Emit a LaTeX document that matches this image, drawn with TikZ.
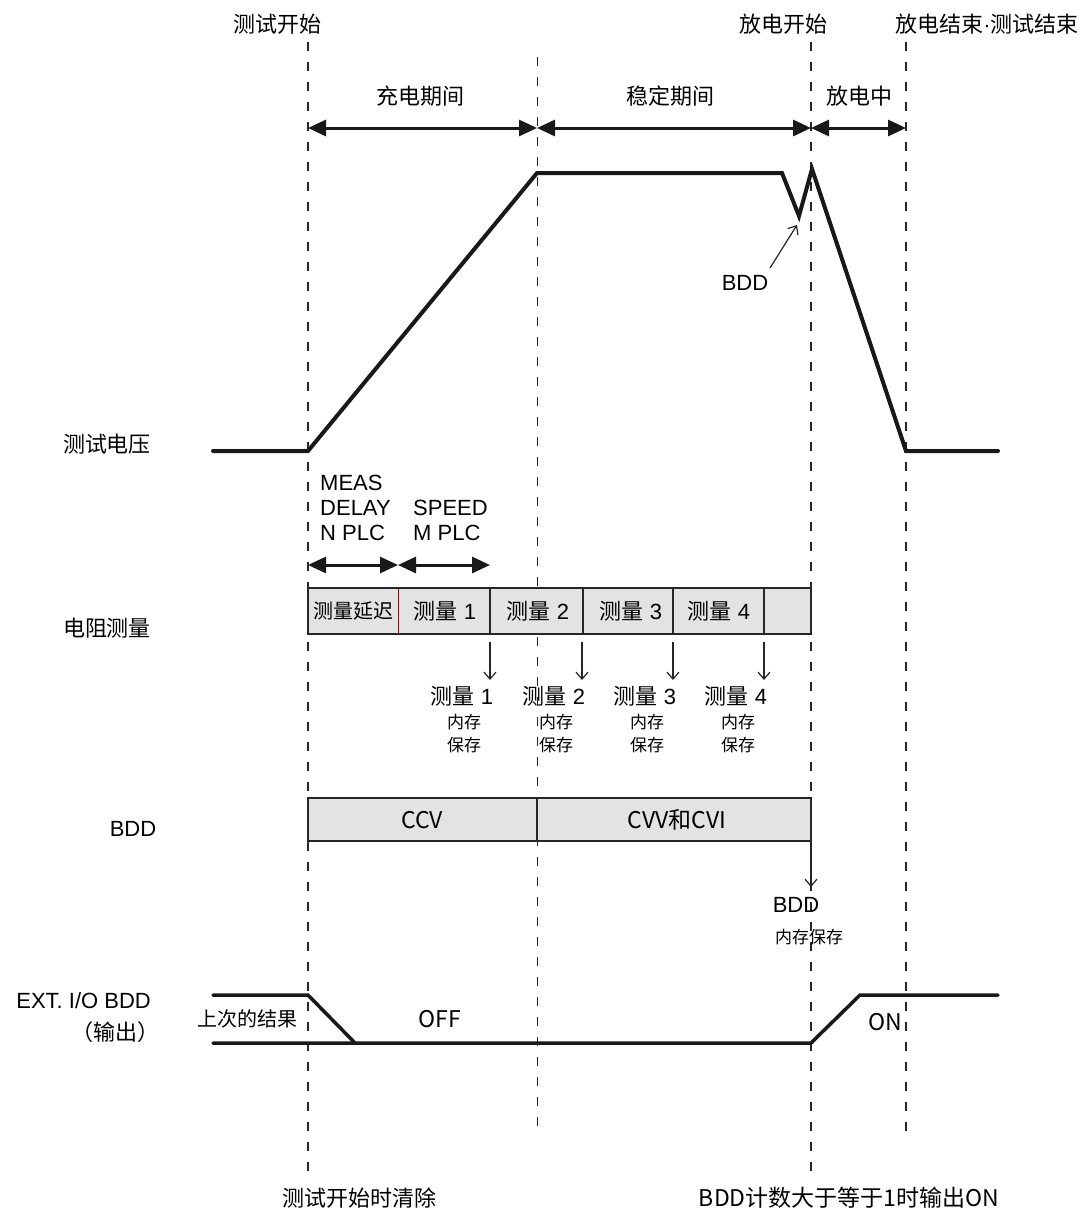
\documentclass[tikz,border=0pt]{standalone}
\usepackage{fontspec}
\setmainfont{Liberation Sans}
\newfontfamily\cjk{Noto Sans CJK SC}
\usetikzlibrary{arrows.meta}
\tikzset{
  guide/.style={line width=1.3pt, dash pattern=on 9pt off 11pt, black!85},
  wave/.style={line width=4pt, black!90, line join=miter},
  span/.style={line width=3pt, black!90, {Triangle[length=18pt,width=16pt]}-{Triangle[length=18pt,width=16pt]}},
  thin/.style={line width=1.2pt, black!85, -{Straight Barb[length=7pt,width=12pt]}},
  lbl/.style={font=\fontsize{22}{25}\selectfont, inner sep=0pt},
  cjklat/.style={font=\fontsize{23}{26}\selectfont\cjk, inner sep=0pt},
  small/.style={font=\fontsize{17}{20}\selectfont\cjk, inner sep=0pt},
  cellbox/.style={draw=black!85, line width=1.3pt, fill=black!11},
}
\begin{document}
\begin{tikzpicture}[x=1pt,y=-1pt]
\useasboundingbox (0,0) rectangle (1083,1211);
% guide lines
\coordinate (g1t) at (308,42); \coordinate (g1b) at (308,1180);
\coordinate (g2t) at (537,57); \coordinate (g2b) at (537,1135);
\coordinate (g3t) at (811,42); \coordinate (g3b) at (811,1180);
\coordinate (g4t) at (906,42); \coordinate (g4b) at (906,1135);
\draw[guide] (g1t) -- (g1b);
\draw[guide, line width=1pt] (g2t) -- (g2b);
\draw[guide] (g3t) -- (g3b);
\draw[guide] (g4t) -- (g4b);
% top labels
\node[lbl] (tstart) at (277,24) {\cjk 测试开始};
\node[lbl] (dstart) at (783,24) {\cjk 放电开始};
\node[lbl] (dend) at (987,24) {{\cjk 放电结束}·{\cjk 测试结束}};
% periods
\coordinate (p1) at (308,128); \coordinate (p2) at (537,128);
\coordinate (p3) at (811,128); \coordinate (p4) at (906,128);
\draw[span] (p1) -- (p2);
\draw[span] (p2) -- (p3);
\draw[span] (p3) -- (p4);
\node[lbl] (chg) at (420,96) {\cjk 充电期间};
\node[lbl] (stb) at (670,96) {\cjk 稳定期间};
\node[lbl] (dis) at (859,96) {\cjk 放电中};
% waveform
\node[lbl] (lv) at (107,444) {\cjk 测试电压};
\coordinate (w0) at (213,451); \coordinate (w1) at (308,451);
\coordinate (w2) at (537,173); \coordinate (w3) at (782,173);
\coordinate (w4) at (799,216); \coordinate (w5) at (812,169);
\coordinate (w6) at (906,451); \coordinate (w7) at (998,451);
\draw[wave, line cap=round] (w0) -- (w1) -- (w2) -- (w3) -- (w4) -- (w5) -- (w6) -- (w7);
\node[lbl] (bddlbl) at (745,283) {BDD};
\coordinate (bddtip) at (797,225);
\coordinate (bddtail) at (770,268);
\draw[thin] (bddtail) -- (bddtip);
% meas delay / speed
\node[lbl, anchor=west] (m1) at (320,483) {MEAS};
\node[lbl, anchor=west] (m2) at (320,508) {DELAY};
\node[lbl, anchor=west] (m3) at (320,533) {N PLC};
\node[lbl, anchor=west] (s1) at (413,508) {SPEED};
\node[lbl, anchor=west] (s2) at (413,533) {M PLC};
\coordinate (a1) at (308,565); \coordinate (a2) at (398,565); \coordinate (a3) at (490,565);
\draw[span] (a1) -- (a2);
\draw[span] (a2) -- (a3);
% resistance row
\node[lbl] (lr) at (107,628) {\cjk 电阻测量};
\draw[cellbox] (308,588) rectangle (811,634);
\foreach \x in {490,583,673,764} \draw[black!85, line width=1.3pt] (\x,588) -- (\x,634);
\draw[red!60!black, line width=1pt] (398,588) -- (398,634);
\node[lbl, font=\fontsize{20}{23}\selectfont\cjk] (c0) at (353,611) {测量延迟};
\node[lbl] (c1) at (445,611) {{\cjk 测量} 1};
\node[lbl] (c2) at (538,611) {{\cjk 测量} 2};
\node[lbl] (c3) at (631,611) {{\cjk 测量} 3};
\node[lbl] (c4) at (719,611) {{\cjk 测量} 4};
\foreach \x/\n [count=\i] in {490/1,582/2,673/3,764/4} {
  \coordinate (d\i t) at (\x,642);
  \coordinate (d\i b) at (\x,680);
  \draw[thin] (d\i t) -- (d\i b);
  \node[lbl] (r\i) at (\x-28,696) {{\cjk 测量} \n};
  \node[small] (r\i a) at (\x-26,722) {内存};
  \node[small] (r\i b) at (\x-26,745) {保存};
}
% BDD row
\node[lbl] (lb) at (133,829) {BDD};
\draw[cellbox] (308,798) rectangle (811,841);
\draw[black!85, line width=1.3pt] (537,798) -- (537,841);
\node[cjklat] (ccv) at (422,820) {CCV};
\node[cjklat] (cvv) at (677,820) {CVV和CVI};
\coordinate (bt) at (811,845); \coordinate (bb) at (811,887);
\draw[thin] (bt) -- (bb);
\node[lbl] (bdd2) at (796,905) {BDD};
\node[small] (bdd3) at (809,937) {内存保存};
% EXT I/O
\node[lbl, anchor=east] (le1) at (151,1001) {EXT. I/O BDD};
\node[lbl, anchor=east] (le2) at (160,1032) {\cjk （输出）};
\coordinate (e0) at (213,995); \coordinate (e1) at (308,995); \coordinate (e2) at (355,1043);
\coordinate (f0) at (213,1043); \coordinate (f1) at (811,1043); \coordinate (f2) at (860,995); \coordinate (f3) at (998,995);
\draw[wave, line width=3.5pt, line cap=round] (e0) -- (e1) -- (e2);
\draw[wave, line width=3.5pt, line cap=round] (f0) -- (f1) -- (f2) -- (f3);
\node[lbl, font=\fontsize{20}{23}\selectfont\cjk] (prev) at (247,1019) {上次的结果};
\node[cjklat] (off) at (440,1019) {OFF};
\node[cjklat] (on) at (885,1022) {ON};
% bottom
\node[lbl] (bot1) at (359,1198) {\cjk 测试开始时清除};
\node[cjklat] (bot2) at (849,1198) {BDD计数大于等于1时输出ON};
\end{tikzpicture}
\end{document}
